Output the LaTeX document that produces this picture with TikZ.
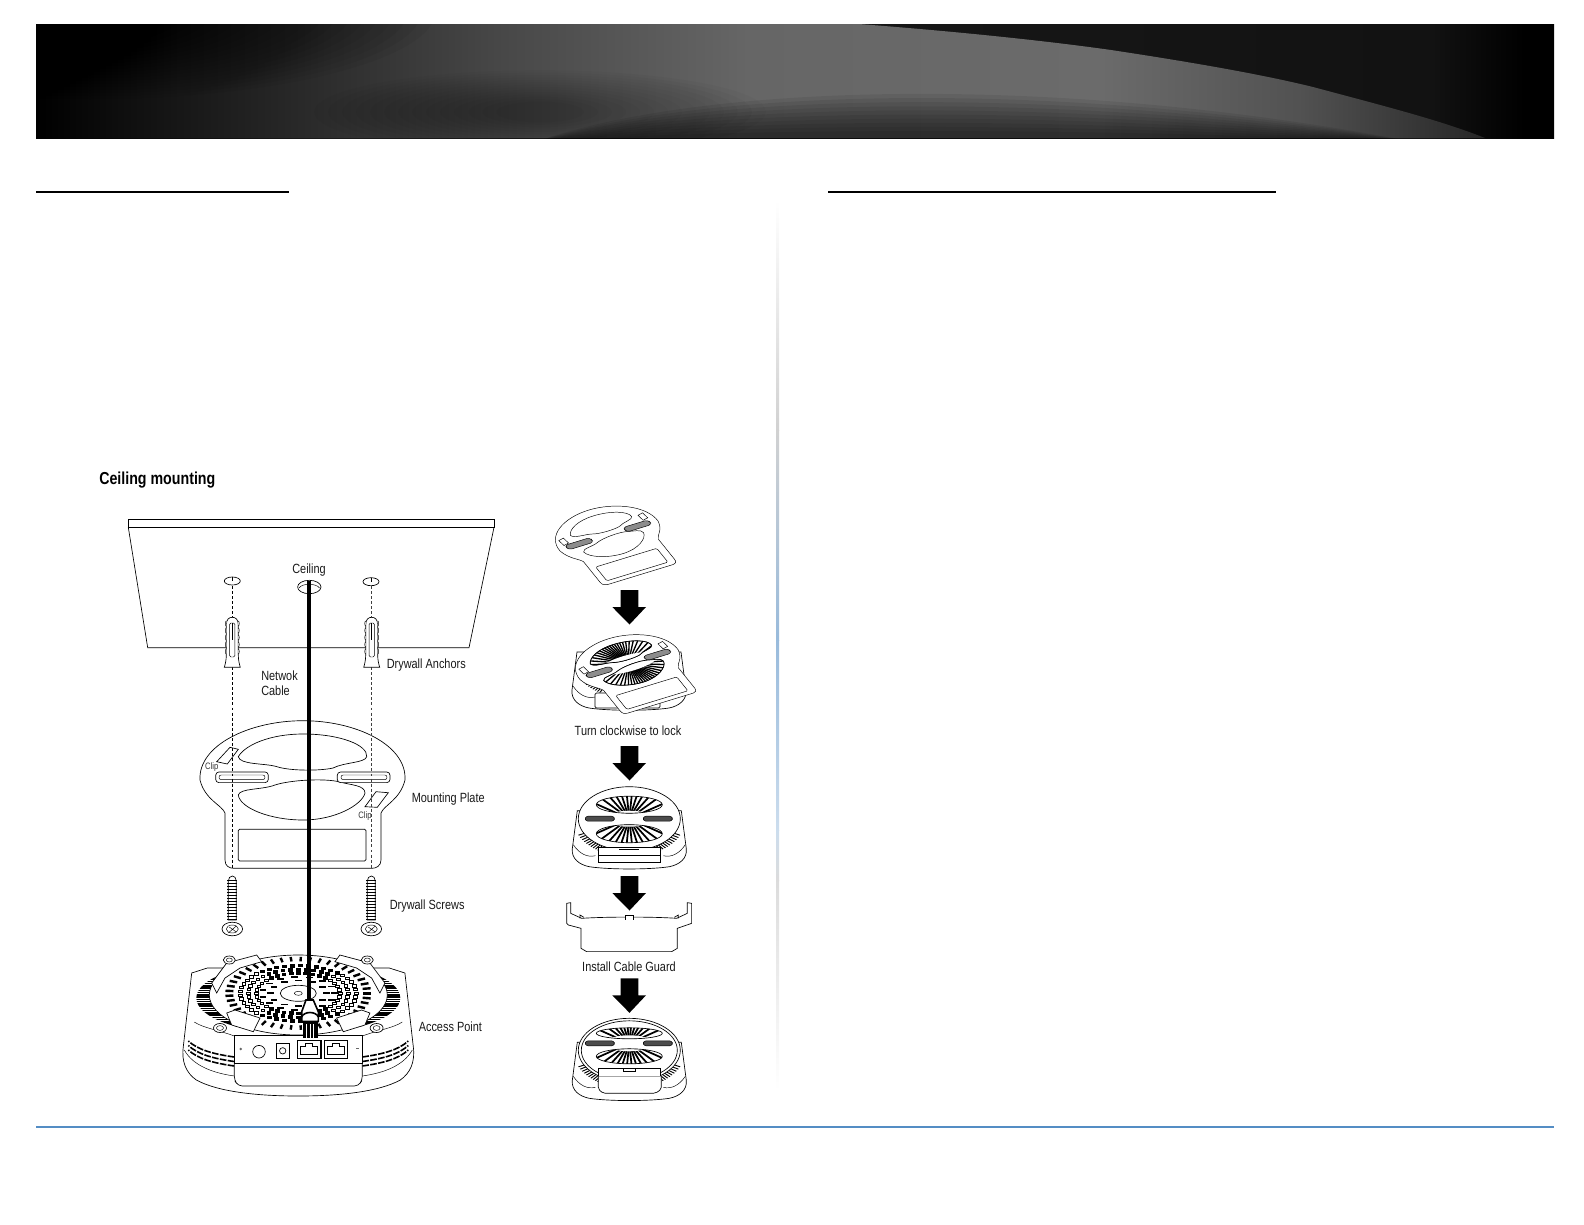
\documentclass[tikz,border=0pt]{standalone}
\usepackage{fontspec}
\newfontfamily\labelfont[FakeStretch=0.82]{Liberation Sans}
\definecolor{rulecolor}{RGB}{84,141,196}

% header bands, stops between 25bp and 75bp span the path
\pgfdeclarehorizontalshading{headerbase}{100bp}{color(0bp)=(black); color(25bp)=(black); color(35bp)=(black!90); color(62bp)=(black!92); color(71bp)=(black!93); color(74bp)=(black); color(100bp)=(black)}
\pgfdeclarehorizontalshading{headerlens}{100bp}{color(0bp)=(black); color(25bp)=(black); color(28.2bp)=(black!94); color(34.1bp)=(black!84); color(41bp)=(black!72); color(49.6bp)=(black!60); color(61.7bp)=(black!58); color(68.6bp)=(black!68); color(75bp)=(black!85); color(100bp)=(black!85)}

\tikzset{
	labeltext/.style={anchor=west,inner sep=0.75pt,font=\labelfont\fontsize{10}{12}\selectfont,text=black!90},
	clipmark/.style={anchor=center,inner sep=0pt,font=\labelfont\fontsize{7}{8}\selectfont,text=black!80},
	captiontext/.style={anchor=center,inner sep=0.75pt,font=\labelfont\fontsize{10}{12}\selectfont,text=black!90},
	thinline/.style={line width=0.5pt,black},
	fineline/.style={line width=0.35pt,black},
	guideline/.style={line width=0.5pt,black,dash pattern=on 2.2pt off 1.6pt},
}

\newcommand{\plateoutline}{(225,860) -- (225,813) .. controls (222,805) and (205,800) .. (200,780) .. controls (198,745) and (250,720.7) .. (303,720.7) .. controls (356,720.7) and (407,745) .. (405,780) .. controls (400,800) and (384,805) .. (381,813) -- (381,860) .. controls (381,866) and (376,868.3) .. (372,868.3) -- (234,868.3) .. controls (229,868.3) and (225,866) .. (225,860) -- cycle}
\newcommand{\uppervoid}{(238.3,756.7) .. controls (245,745) and (270,734) .. (303,734) .. controls (340,734) and (368,745) .. (366.7,756.7) .. controls (365,763) and (345,762) .. (333,768) .. controls (320,771) and (290,771) .. (277,766.7) .. controls (265,763) and (240,765) .. (238.3,756.7) -- cycle}
\newcommand{\lowervoid}{(238.3,795) .. controls (240,788) and (262,790) .. (275,785) .. controls (290,780) and (325,778) .. (340,782) .. controls (350,785) and (365,785) .. (365,793) .. controls (362,805) and (335,820) .. (303,820) .. controls (270,820) and (240,808) .. (238.3,795) -- cycle}

% plate drawn at its ceiling position, #1 = line style, #2 = slot filling
\newcommand{\mountplate}[2]{
	\draw [#1,fill=white] \plateoutline ;
	\draw [#1] \uppervoid ;
	\draw [#1] \lowervoid ;
	\draw [#1,rounded corners=2.4,fill=#2] (215.7,772) rectangle (268.3,782.6) ;
	\draw [#1,rounded corners=2.4,fill=#2] (337.3,772) rectangle (390,782.6) ;
	\draw [#1,rounded corners=1] (238.3,829.3) rectangle (366,861) ;
}
\newcommand{\plateclips}{
	\draw [fineline] (214,772) -- (212,760) -- (223,758) -- (225,770) -- cycle ;
	\draw [fineline] (381,770) -- (379,758) -- (390,756) -- (392,768) -- cycle ;
}

% one vent of the small access point, #1 = centre y, #2 = half height, #3 = y of the rays' centre
\newcommand{\ventoval}[3]{
	\begin{scope}
		\clip (0,#1) ellipse (33 and #2) ;
		\fill [white] (0,#1) ellipse (33 and #2) ;
		\foreach \a in {0,12,...,348} {\draw [line width=1.3pt] (0,#3) -- ++(\a:70) ;}
		\fill [white] (0,#3) ellipse (24 and 8) ;
	\end{scope}
	\draw [thinline] (0,#1) ellipse (33 and #2) ;
}

% small access point, origin = top of the disc
\newcommand{\smallbody}{
	\draw [thinline,fill=white] (-52,24) -- (-57,62) .. controls (-58,72) and (-50,78) .. (-40,80) .. controls (-20,83) and (20,83) .. (40,80) .. controls (50,78) and (58,72) .. (57,62) -- (52,24) -- cycle ;
	\foreach \s in {-1,1} {
		\begin{scope}[xscale=\s]
			\begin{scope}
				\clip (0,33) ellipse (56 and 37) ;
				\foreach \a in {18,21,...,48} {\draw [line width=0.7pt] (0,32) -- ++(\a:75) ;}
			\end{scope}
			\draw [fineline] (34,69) .. controls (42,71) and (50,67) .. (56,58) ;
		\end{scope}
	}
}
% #1,#2 = upper vent, #3 = slot height, #4,#5 = lower vent
\newcommand{\smalldisc}[5]{
	\draw [thinline,fill=white] (0,32) ellipse (51 and 32) ;
	\ventoval{#1}{#2}{#3}
	\ventoval{#4}{#5}{#3}
	\draw [fineline,rounded corners=2,fill=black!70] (-44,#3-2.5) rectangle (-15,#3+2.5) ;
	\draw [fineline,rounded corners=2,fill=black!70] (14,#3-2.5) rectangle (43,#3+2.5) ;
}

\begin{document}
\begin{tikzpicture}[x=0.75pt,y=0.75pt,yscale=-1,xscale=1]
	\useasboundingbox (0,0) rectangle (1584,1224);

	%Shape: Rectangle [id:headerband]
	\begin{scope}
		\clip (36,24) rectangle (1554,138);
		\shade [shading=headerbase] (36,24) rectangle (1554,138);
		\shade [shading=headerlens] (36,24) -- (859,24) .. controls (950,31) and (1040,40) .. (1111,50) .. controls (1190,62) and (1260,74) .. (1313,87) .. controls (1380,105) and (1440,120) .. (1485,138) -- (36,138) -- cycle;
		%dark corner, top left
		\foreach \k in {1,...,20} {\fill [black,opacity=0.045] (90,10) ellipse ({360-14*\k} and {92-3*\k});}
		%dark patch, middle left
		\foreach \k in {1,...,14} {\fill [black,opacity=0.022] (540,112) ellipse ({240-14*\k} and {44-2.4*\k});}
		%lower crescent
		\foreach \k in {0,...,9} {\fill [black,opacity=0.075] (535,142) .. controls (700,{84+5*\k}) and (1050,{72+6*\k}) .. (1414,142) -- cycle;}
	\end{scope}

	%Straight Lines [id:headingrules]
	\fill (36,191) rectangle (289,193.2);
	\fill (828,191) rectangle (1276,193.2);
	%Straight Lines [id:footrule]
	\fill [rulecolor] (36,1126.4) rectangle (1554,1128);
	%Shape: Rectangle [id:pagedivider]
	\shade [top color=white,bottom color=black!18] (776,200) rectangle (779,430);
	\shade [top color=black!18,bottom color=rulecolor!60] (776,430) rectangle (779,640);
	\shade [top color=rulecolor!60,bottom color=rulecolor!30] (776,640) rectangle (779,830);
	\shade [top color=rulecolor!30,bottom color=black!14] (776,830) rectangle (779,880);
	\shade [top color=black!14,bottom color=white] (776,880) rectangle (779,1090);

	%Shape: Ceiling slab
	\draw [line width=0.7pt] (128.3,519.3) -- (494,519.3) -- (494,527.3) -- (128.3,527.3) -- cycle;
	\draw [thinline] (128.3,527.3) -- (147.7,647.7) -- (469,647.7) -- (494,527.3);
	%Shape: Ellipse [id:ceilingholes]
	\draw [thinline] (232.3,581) ellipse (8 and 4);
	\draw [fineline] (232.3,577) -- (232.3,581);
	\draw [thinline] (371,581.7) ellipse (8 and 4);
	\draw [fineline] (371,577.7) -- (371,581.7);
	\draw [thinline] (309.3,587) ellipse (11.7 and 6.7);
	\draw [fineline] (299,588) .. controls (302,583) and (316,583) .. (319.6,588);

	%Straight Lines [id:guidelines]
	\draw [guideline] (232.3,586) -- (232.3,618);
	\draw [guideline] (232.3,667) -- (232.3,733);
	\draw [guideline,black!75] (371.7,586) -- (371.7,618);
	\draw [guideline,black!75] (371.7,667) -- (371.7,733);

	%Shape: Drywall anchors
	\foreach \x in {232.3,371.7} {
		\begin{scope}[shift={(\x,0)}]
			\draw [thinline,fill=white] (-6,625) .. controls (-6,619) and (-3,617.3) .. (0,617.3) .. controls (3,617.3) and (6,619) .. (6,625) -- (6,655) .. controls (6,660) and (7,664) .. (8,667.3) -- (-8,667.3) .. controls (-7,664) and (-6,660) .. (-6,655) -- cycle;
			\foreach \y in {626,633,...,654} {
				\draw [fineline,fill=white] (-6,\y) arc (90:270:1 and 2.5);
				\draw [fineline,fill=white] (6,\y) arc (90:-90:1 and 2.5);
			}
			\draw [fineline,rounded corners=1] (-2.6,623) rectangle (2.6,657);
			\draw [fineline] (0,623) -- (0,640);
		\end{scope}
	}

	%Shape: Mounting plate
	\mountplate{thinline}{white}
	\draw [fineline,rounded corners=1.6] (219,775) rectangle (265,779.6);
	\draw [fineline,rounded corners=1.6] (341,775) rectangle (387,779.6);
	%Shape: Clips
	\draw [thinline,fill=white] (216.7,761.7) -- (230,747.3) -- (238.3,749.3) -- (227.3,764) -- cycle;
	\draw [thinline,fill=white] (365,806.7) -- (376,791.7) -- (388.3,792.7) -- (377.3,807.3) -- cycle;
	%Straight Lines [id:guidesthroughplate]
	\draw [guideline] (232.3,733) -- (232.3,868);
	\draw [guideline,black!75] (371.7,733) -- (371.7,868);

	%Shape: Drywall screws
	\foreach \x in {232.3,371.3} {
		\begin{scope}[shift={(\x,0)}]
			\draw [thinline,fill=white] (-4,881) .. controls (-4,878) and (-2,876) .. (0,876) .. controls (2,876) and (4,878) .. (4,881) -- (4,920) -- (-4,920) -- cycle;
			\foreach \y in {880,883,...,919} {\draw [line width=0.75pt] (-5,\y) -- (5,\y);}
			\draw [thinline,fill=white] (0,929) ellipse (10.3 and 6.8);
			\draw [fineline] (0,929) ellipse (6 and 4);
			\draw [fineline] (-4,933) -- (4,926) (-3,927) -- (4,932);
		\end{scope}
	}

	%Shape: Access point, left and right sides mirrored
	\begin{scope}[shift={(298.3,0)}]
		\draw [thinline,fill=white] (-106.6,973) -- (-91,968) -- (91,968) -- (106.6,973) -- (115,1046.7) .. controls (117,1062) and (112,1073) .. (102,1080) .. controls (80,1092) and (40,1096) .. (0,1096) .. controls (-40,1096) and (-80,1092) .. (-102,1080) .. controls (-112,1073) and (-117,1062) .. (-115,1046.7) -- cycle;
		\foreach \s in {-1,1} {
			\begin{scope}[xscale=\s]
				%side hatching
				\begin{scope}
					\clip (0,998) ellipse (102 and 36);
					\foreach \y in {960,961.8,...,1034} {\draw [line width=1pt] (60,\y) -- (110,\y);}
				\end{scope}
				%lower vents
				\foreach \d in {0,4.5,9} {
					\draw [line width=1.2pt,dash pattern=on 5pt off 1pt] (64,{1057+\d}) .. controls (85,{1054+\d}) and (100,{1050+\d}) .. (110,{1041+\d});
				}
				\draw [fineline] (64,1076) .. controls (85,1073) and (105,1066) .. (114,1050);
				\draw [fineline] (64,1036) .. controls (80,1030) and (95,1028) .. (104,1022);
			\end{scope}
		}
		\draw [thinline,fill=white] (0,995) ellipse (89 and 40);
		%Shape: Perforated disc
		\foreach \a in {0,8,...,352} {\draw [line width=1.8pt] ({65*cos(\a)},{993.3+32*sin(\a)}) -- ++({8*cos(\a)},{4.5*sin(\a)});}
		\foreach \r/\st in {58/8,50/9,42/10} {
			\foreach \a in {0,\st,...,359} {
				\pgfmathsetmacro{\barfill}{abs(sin(\a))>0.72?100:0}
				\draw [line width=0.6pt,fill=black!\barfill] ({\r*cos(\a)-1.9},{993.3+\r*0.48*sin(\a)-1.3}) rectangle ++(3.8,2.6);
			}
		}
		\foreach \r/\st in {36/24,28/30} {
			\foreach \a in {0,\st,...,359} {
				\fill ({\r*cos(\a)-3.4},{993.3+\r*0.46*sin(\a)-0.9}) rectangle ++(6.8,1.8);
			}
		}
		\draw [thinline,fill=white] (0,993.3) ellipse (18 and 8);
		\draw [fineline] (0,993.3) ellipse (4 and 2);
		\foreach \s in {-1,1} {
			\begin{scope}[xscale=\s]
				%tabs
				\draw [thinline,fill=white] (-86.6,983) -- (-71.6,963) -- (-41.6,955) -- (-36.6,961.7) -- (-58.3,968) -- (-73.3,978) -- (-81.6,993) -- cycle;
				\draw [thinline,fill=white] (-71.6,1013) -- (-63.3,1010) -- (-38.3,1018) -- (-45,1031.7) -- (-66.6,1025) -- cycle;
				%bosses
				\draw [thinline,fill=white] (-69,960) ellipse (6 and 4);
				\draw [fineline] (-69,960) ellipse (3 and 2);
				\draw [thinline,fill=white] (-78.3,1028) ellipse (6.5 and 4.5);
				\draw [fineline] (-78.3,1028) ellipse (3.5 and 2.4);
			\end{scope}
		}
		%Shape: Port panel
		\draw [thinline,fill=white,rounded corners=3] (-64,1063.3) -- (-64,1080) -- (-60,1086) -- (60,1086) -- (64,1080) -- (64,1063.3);
		\draw [thinline,fill=white] (-64,1035.7) rectangle (64,1063.3);
		\fill [black!60] (-57.6,1049) circle (1.4);
		\draw [thinline,fill=white] (-39.3,1051.7) circle (6.3);
		\draw [thinline] (-22.3,1043.3) rectangle (-9,1058.3);
		\draw [thinline] (-15.6,1050.8) circle (3.2);
		\foreach \x in {-0.6,26} {
			\begin{scope}[shift={(\x,1040.7)}]
				\draw [line width=0.9pt] (0,0) rectangle (23.3,17.6);
				\draw [fineline] (3,14) -- (3,6) -- (8,6) -- (8,3) -- (15,3) -- (15,6) -- (20,6) -- (20,14) -- cycle;
			\end{scope}
		}
		\fill [black!60] (57.4,1047.5) rectangle (61,1049);
	\end{scope}

	%Straight Lines [id:networkcable]
	\draw [line width=3pt] (309.3,581) -- (309.3,1002);
	%Shape: RJ45 plug
	\fill (303,1020) rectangle (317.5,1038.3);
	\foreach \x in {306.5,310.2,313.8} {\draw [white,line width=0.5pt] (\x,1024) -- (\x,1038.3);}
	\draw [line width=1.2pt,fill=white] (301.7,1011.7) -- (306,1000) -- (313.3,1000) -- (318.3,1011.7) -- (318.3,1021.5) -- (301.7,1021.5) -- cycle;
	\draw [line width=1.2pt] (301.7,1017) .. controls (304,1011) and (316,1011) .. (318.3,1017);

	%Shape: Top right, plate alone
	\begin{scope}[shift={(608.3,534.7)},rotate=-17,xslant=0.4,xscale=0.5,yscale=0.52,shift={(-303,-777)}]
		\mountplate{fineline}{black!45}
		\plateclips
	\end{scope}

	%Shape: Second figure, plate over body
	\begin{scope}[shift={(629,628)}]
		\smallbody
		\draw [thinline,fill=white,rounded corners=1] (-34,65) rectangle (31,80);
	\end{scope}
	\begin{scope}[shift={(628.3,663.3)},rotate=-17,xslant=0.4,xscale=0.5,yscale=0.52,shift={(-303,-777)}]
		\mountplate{fineline}{black!45}
		\foreach \p in {\uppervoid,\lowervoid} {
			\begin{scope}
				\clip \p;
				\foreach \a in {0,7,...,353} {\draw [line width=1pt] (303,777) -- ++(\a:110);}
				\fill [white] (303,777) ellipse (62 and 16);
			\end{scope}
			\draw [thinline] \p;
		}
		\plateclips
	\end{scope}

	%Shape: Third figure
	\begin{scope}[shift={(629.3,786.7)}]
		\smallbody
		\smalldisc{18}{8.5}{32}{47}{9}
		\draw [thinline,fill=white] (-31,61) rectangle (31,69);
		\draw [thinline,fill=white] (-31,69) -- (-31,76) -- (31,76) -- (31,69);
		\fill (-10,62) rectangle (10,63.5);
	\end{scope}

	%Shape: Cable guard
	\begin{scope}[shift={(540,780)},scale=0.3333]
		\draw [line width=0.5pt,fill=white] (80,370) -- (92,368) -- (92,400) -- (125,415) .. controls (200,410) and (340,410) .. (410,415) -- (442,400) -- (442,368) -- (455,370) -- (455,430) -- (412,445) -- (412,505) -- (395,515) -- (140,515) -- (123,505) -- (123,445) -- (85,435) -- (80,430) -- cycle;
		\draw [line width=0.5pt,fill=white] (255,420) -- (255,407) -- (280,407) -- (280,420);
		\draw [line width=0.5pt] (120,415) -- (120,405) -- (132,412);
		\draw [line width=0.5pt] (415,415) -- (415,405) -- (403,412);
	\end{scope}

	%Shape: Fifth figure
	\begin{scope}[shift={(629.3,1018.3)}]
		\smallbody
		\smalldisc{15}{5.5}{25}{38}{7.5}
		\draw [thinline] (0,32) ellipse (48 and 29.5);
		\draw [thinline,fill=white] (-31,50) rectangle (31,58);
		\draw [thinline,fill=white,rounded corners=1.5] (-31,58) -- (-31,71) -- (-26,75) -- (26,75) -- (32,71) -- (32,58);
		\draw [fineline,fill=white] (-6,50) rectangle (6,53);
	\end{scope}

	%Shape: Block arrows
	\foreach \y in {590,746,876,978.3} {
		\fill (620.7,\y) -- (638.3,\y) -- (638.3,\y+17) -- (646,\y+17) -- (629.5,\y+34.5) -- (612.3,\y+17) -- (620.7,\y+17) -- cycle;
	}

	% Text Node
	\draw (98,480) node (mountingtitle) [anchor=west][inner sep=0.75pt] [font=\labelfont\bfseries\fontsize{13}{15}\selectfont]  {Ceiling mounting};
	% Text Node
	\draw (309,570) node (ceilinglabel) [captiontext]  {Ceiling};
	% Text Node
	\draw (260,675.5) node (cablelabel) [labeltext]  {Netwok};
	% Text Node
	\draw (260,691) node (cablelabeltwo) [labeltext]  {Cable};
	% Text Node
	\draw (385.5,665) node (anchorlabel) [labeltext]  {Drywall Anchors};
	% Text Node
	\draw (211.7,767) node (clipone) [clipmark]  {Clip};
	% Text Node
	\draw (365,816.5) node (cliptwo) [clipmark]  {Clip};
	% Text Node
	\draw (410.5,799) node (platelabel) [labeltext]  {Mounting Plate};
	% Text Node
	\draw (388.5,906) node (screwlabel) [labeltext]  {Drywall Screws};
	% Text Node
	\draw (417.5,1027) node (aplabel) [labeltext]  {Access Point};
	% Text Node
	\draw (628,731) node (turnlabel) [captiontext]  {Turn clockwise to lock};
	% Text Node
	\draw (629,967) node (guardlabel) [captiontext]  {Install Cable Guard};
\end{tikzpicture}
\end{document}
